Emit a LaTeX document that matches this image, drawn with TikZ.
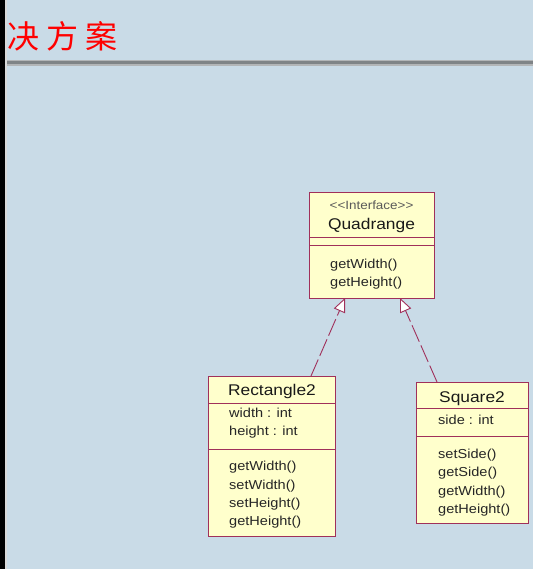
\documentclass[tikz,border=0pt]{standalone}
\usepackage{fontspec}
\setmainfont{Liberation Sans}[FakeStretch=1.12]
\newfontfamily\cjk{Noto Sans CJK SC}[LetterSpace=22]
\usetikzlibrary{arrows.meta}
\definecolor{bg}{HTML}{C9DBE7}
\definecolor{boxfill}{HTML}{FFFFCC}
\definecolor{boxline}{HTML}{A0305A}
\definecolor{rulegray}{HTML}{7F8487}
\tikzset{
  cls/.style={draw=boxline, fill=boxfill, line width=0.9pt, inner sep=0pt, anchor=north west},
  sep/.style={draw=boxline, line width=0.9pt},
  nm/.style={font=\fontsize{15.5}{17}\selectfont, text=black!90, inner sep=0pt},
  st/.style={font=\fontsize{12}{14}\selectfont, text=black!65, inner sep=0pt},
  mb/.style={font=\fontsize{13}{15}\selectfont, text=black!85, inner sep=0pt, anchor=west},
  real/.style={draw=boxline, line width=0.9pt, dash pattern=on 18pt off 4pt,
    -{Triangle[open, length=14pt, width=12pt, fill=white]}}
}
\begin{document}
\begin{tikzpicture}[x=1pt,y=-1pt]
\useasboundingbox (0,0) rectangle (533,569);
\fill[bg] (0,0) rectangle (533,569);
% title
\node[text=red, font=\cjk\fontsize{32}{34}\selectfont, anchor=base west, inner sep=0pt] (title) at (7,49) {决方案};
% rule
\fill[rulegray!60] (7,60) rectangle (533,66);
\fill[rulegray] (7,61.5) rectangle (533,64.5);
% left strips
\fill[black] (0,0) rectangle (5,569);
\fill[gray!30] (5,0) rectangle (7,569);

% Quadrange
\node[cls, minimum width=125pt, minimum height=106pt] (q) at (309,192) {};
\draw[sep] (309,237) -- (434,237);
\draw[sep] (309,245) -- (434,245);
\node[st] (qs) at (371.5,205) {{<}{<}Interface{>}{>}};
\node[nm] (qn) at (371.5,225) {Quadrange};
\node[mb] (qm1) at (330,265) {getWidth()};
\node[mb] (qm2) at (330,283) {getHeight()};

% Rectangle2
\node[cls, minimum width=127pt, minimum height=160pt] (r) at (208,376) {};
\draw[sep] (208,403) -- (335,403);
\draw[sep] (208,449) -- (335,449);
\node[nm] (rn) at (272,391) {Rectangle2};
\node[mb] (ra1) at (229,413) {width : int};
\node[mb] (ra2) at (229,432) {height : int};
\node[mb] (rm1) at (229,467) {getWidth()};
\node[mb] (rm2) at (229,486) {setWidth()};
\node[mb] (rm3) at (229,504) {setHeight()};
\node[mb] (rm4) at (229,522) {getHeight()};

% Square2
\node[cls, minimum width=112pt, minimum height=141pt] (s) at (416,382) {};
\draw[sep] (416,408) -- (528,408);
\draw[sep] (416,436) -- (528,436);
\node[nm] (sn) at (472,399) {Square2};
\node[mb] (sa1) at (438,420) {side : int};
\node[mb] (sm1) at (438,455) {setSide()};
\node[mb] (sm2) at (438,473) {getSide()};
\node[mb] (sm3) at (438,492) {getWidth()};
\node[mb] (sm4) at (438,510) {getHeight()};

% realizations
\coordinate (rtop) at (311,376);
\coordinate (qb1) at (345,298);
\coordinate (stop) at (437,382);
\coordinate (qb2) at (400,298);
\draw[real] (rtop) -- (qb1);
\draw[real] (stop) -- (qb2);
\end{tikzpicture}
\end{document}
